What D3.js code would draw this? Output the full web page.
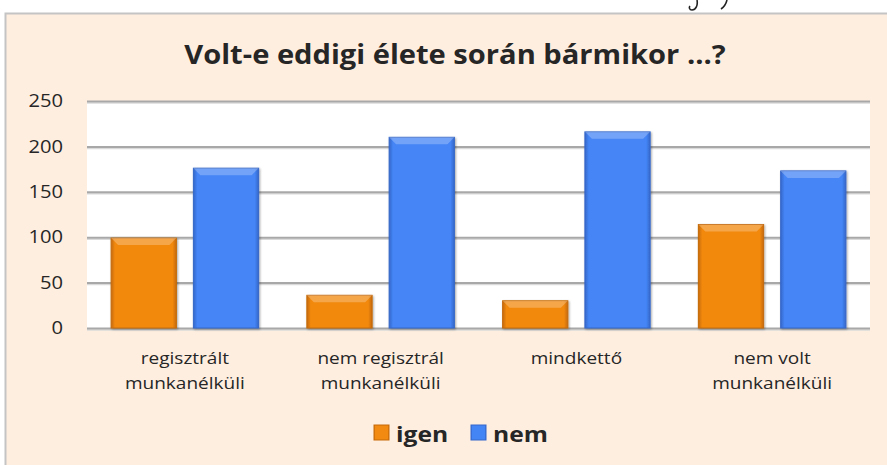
<!DOCTYPE html>
<html lang="hu">
<head>
<meta charset="utf-8">
<title>Volt-e eddigi élete során bármikor ...?</title>
<script src="https://cdn.jsdelivr.net/npm/d3@7"></script>
<style>
  body { margin: 0; background: #fff; }
  text { font-family: "Open Sans", sans-serif; fill: #262626; }
</style>
</head>
<body>
<script>
// data
var categories = [["regisztrált", "munkanélküli"], ["nem regisztrál", "munkanélküli"], ["mindkettő"], ["nem volt", "munkanélküli"]];
var series = ["igen", "nem"];
var igen = [99, 36, 30, 114];
var nem = [176, 210, 216, 173];
var yTicks = [0, 50, 100, 150, 200, 250];
var colors = { igen: "#F28910", nem: "#4485F6" };
var edges = { igen: "#C56A08", nem: "#3567C9" };

var width = 887, height = 465;
var plot = { left: 87, right: 870, top: 101, bottom: 328 };
var stretch = 1.12; // the source font is drawn a bit wide

var svg = d3.select("body").append("svg")
  .attr("width", width)
  .attr("height", height);

var defs = svg.append("defs");
series.forEach(function(s) {
  var g = defs.append("linearGradient").attr("id", "grad-" + s).attr("x1", 0).attr("x2", 1).attr("y1", 0).attr("y2", 0);
  g.append("stop").attr("offset", "0%").attr("stop-color", edges[s]);
  g.append("stop").attr("offset", "6%").attr("stop-color", colors[s]);
  g.append("stop").attr("offset", "94%").attr("stop-color", colors[s]);
  g.append("stop").attr("offset", "100%").attr("stop-color", edges[s]);
});
var f = defs.append("filter").attr("id", "shadow").attr("x", "-20%").attr("y", "-20%").attr("width", "140%").attr("height", "140%");
f.append("feDropShadow").attr("dx", 1).attr("dy", 1).attr("stdDeviation", 1.2).attr("flood-color", "#000").attr("flood-opacity", 0.35);

// pen strokes cut off at the top of the scan
svg.append("path")
  .attr("d", "M697,0 C698,5 696,10 692,10 C689,10 689,7 690,6 M727,0 C726,4 724,7 721,9")
  .attr("fill", "none")
  .attr("stroke", "#222")
  .attr("stroke-width", 1.6);

// chart frame
svg.append("rect")
  .attr("x", 5.5).attr("y", 13.5)
  .attr("width", 900).attr("height", 470)
  .attr("fill", "#FEEEE0")
  .attr("stroke", "#C4C4C4")
  .attr("stroke-width", 2);

// plot area
svg.append("rect")
  .attr("x", plot.left).attr("y", plot.top)
  .attr("width", plot.right - plot.left).attr("height", plot.bottom - plot.top)
  .attr("fill", "#fff");

var x0 = d3.scaleBand()
  .domain(d3.range(categories.length))
  .range([plot.left, plot.right]);

var x1 = d3.scaleBand()
  .domain(series)
  .range([0, x0.bandwidth()])
  .paddingInner(0.207)
  .paddingOuter(0.293);

var y = d3.scaleLinear()
  .domain([0, 250])
  .range([plot.bottom, plot.top]);

// gridline shadows
svg.append("g").selectAll("line").data(yTicks).enter()
  .append("line")
  .attr("x1", plot.left).attr("x2", plot.right)
  .attr("y1", function(d) { return y(d) + 2; })
  .attr("y2", function(d) { return y(d) + 2; })
  .attr("stroke", "#DADADA")
  .attr("stroke-width", 1.5);

// gridlines + tick labels
var yAxis = d3.axisLeft(y).tickValues(yTicks).tickSize(-(plot.right - plot.left)).tickPadding(0);
var ga = svg.append("g")
  .attr("transform", "translate(" + plot.left + ",0)")
  .call(yAxis);
ga.select(".domain").remove();
ga.selectAll(".tick line")
  .attr("stroke", "#A8A8A8")
  .attr("stroke-width", 2);
ga.selectAll(".tick text")
  .attr("x", null)
  .attr("transform", "translate(-24,0) scale(" + stretch + ",1)")
  .attr("font-size", 18)
  .attr("fill", "#262626")
  .style("font-family", "'Open Sans', sans-serif");

// bars
var rows = categories.map(function(c, i) { return { i: i, igen: igen[i], nem: nem[i] }; });
var groups = svg.selectAll("g.grp").data(rows).enter()
  .append("g").attr("class", "grp")
  .attr("transform", function(d) { return "translate(" + x0(d.i) + ",0)"; });

var bars = groups.selectAll("g.bar")
  .data(function(d) { return series.map(function(s) { return { s: s, v: d[s] }; }); })
  .enter().append("g").attr("class", "bar");

bars.append("rect")
  .attr("x", function(d) { return x1(d.s); })
  .attr("y", function(d) { return y(d.v); })
  .attr("width", x1.bandwidth())
  .attr("height", function(d) { return y(0) - y(d.v); })
  .attr("fill", function(d) { return "url(#grad-" + d.s + ")"; })
  .attr("stroke", function(d) { return edges[d.s]; })
  .attr("stroke-width", 1)
  .attr("filter", "url(#shadow)");

// bevel highlight on top
bars.append("path")
  .attr("d", function(d) {
    var xl = x1(d.s), xr = xl + x1.bandwidth(), yt = y(d.v);
    return "M" + xl + "," + yt + "L" + xr + "," + yt + "L" + (xr - 7) + "," + (yt + 7) + "L" + (xl + 7) + "," + (yt + 7) + "Z";
  })
  .attr("fill", "#fff")
  .attr("opacity", 0.25);

// category labels
var cat = svg.selectAll("g.cat").data(categories).enter()
  .append("g").attr("class", "cat")
  .attr("transform", function(d, i) {
    return "translate(" + (x0(i) + x0.bandwidth() / 2) + ",364) scale(" + stretch + ",1)";
  });
cat.selectAll("text").data(function(d) { return d; }).enter()
  .append("text")
  .attr("text-anchor", "middle")
  .attr("font-size", 17)
  .attr("fill", "#262626")
  .attr("y", function(d, i) { return i * 25; })
  .text(function(d) { return d; });

// title
svg.append("text")
  .attr("transform", "translate(455,64) scale(" + stretch + ",1)")
  .attr("text-anchor", "middle")
  .attr("font-size", 26)
  .attr("font-weight", "bold")
  .attr("fill", "#1a1a1a")
  .text("Volt-e eddigi élete során bármikor ...?");

// legend
var legendX = [374, 471];
var leg = svg.selectAll("g.leg").data(series).enter()
  .append("g").attr("class", "leg")
  .attr("transform", function(d, i) { return "translate(" + legendX[i] + ",425)"; });
leg.append("rect")
  .attr("width", 15).attr("height", 15)
  .attr("fill", function(d) { return "url(#grad-" + d + ")"; })
  .attr("stroke", function(d) { return edges[d]; });
leg.append("text")
  .attr("transform", "translate(22,17) scale(" + stretch + ",1)")
  .attr("font-size", 22)
  .attr("font-weight", "bold")
  .attr("fill", "#1a1a1a")
  .text(function(d) { return d; });
</script>
</body>
</html>
